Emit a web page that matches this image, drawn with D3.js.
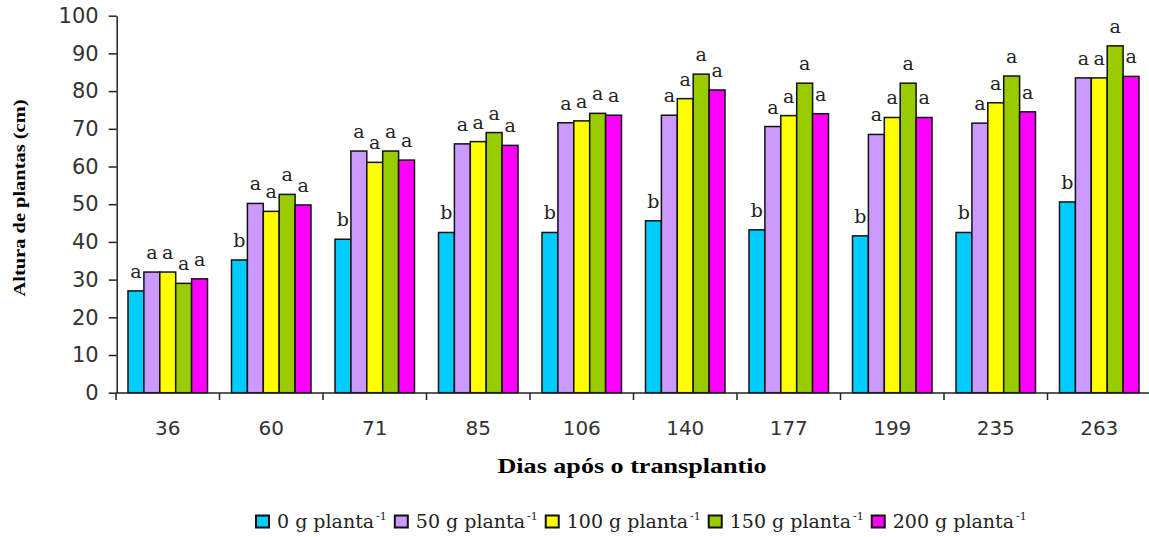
<!DOCTYPE html>
<html><head><meta charset="utf-8">
<script src="https://cdn.jsdelivr.net/npm/d3@7"></script>
<style>body{margin:0;background:#fff}svg{display:block}</style>
</head><body>
<svg id="c" width="1149" height="537"></svg>
<script>
const categories = ["36","60","71","85","106","140","177","199","235","263"];
const seriesNames = ["0 g planta","50 g planta","100 g planta","150 g planta","200 g planta"];
const seriesColors = ["#00CCFF","#CC99FF","#FFFF00","#99CC00","#FF00FF"];
const s0 = [27, 35.2, 40.7, 42.5, 42.5, 45.6, 43.2, 41.6, 42.5, 50.6];
const s50 = [32, 50.2, 64.1, 66.0, 71.6, 73.6, 70.6, 68.5, 71.5, 83.5];
const s100 = [32, 48.1, 61.1, 66.6, 72.1, 78.0, 73.5, 73.0, 76.9, 83.5];
const s150 = [29, 52.6, 64.1, 69.0, 74.1, 84.5, 82.1, 82.1, 84.0, 92.0];
const s200 = [30.2, 49.8, 61.7, 65.6, 73.6, 80.3, 74.0, 73.0, 74.5, 83.9];
const letters0 = ["a","b","b","b","b","b","b","b","b","b"];
const lettersOther = ["a","a","a","a","a","a","a","a","a","a"];
const yTicks = [0,10,20,30,40,50,60,70,80,90,100];

const seriesValues = [s0, s50, s100, s150, s200];
const svg = d3.select("#c");
const x0 = d3.scaleBand().domain(categories).range([116, 1151]).paddingInner(0).paddingOuter(0);
const x1 = d3.scaleBand().domain(d3.range(5)).range([12, 91.5]);
const y = d3.scaleLinear().domain([0,100]).range([392.7, 15.7]);

// bars
const data = [];
categories.forEach((c,i)=>{
  seriesValues.forEach((arr,j)=>{
    data.push({c, j, v: arr[i], l: j===0 ? letters0[i] : lettersOther[i]});
  });
});
svg.append("g").selectAll("rect").data(data).join("rect")
  .attr("x", d=>x0(d.c)+x1(d.j))
  .attr("y", d=>y(d.v))
  .attr("width", x1.bandwidth())
  .attr("height", d=>y(0)-y(d.v))
  .attr("fill", d=>seriesColors[d.j])
  .attr("stroke","#111").attr("stroke-width",1.5);

svg.append("g").selectAll("text").data(data).join("text")
  .attr("x", d=>x0(d.c)+x1(d.j)+x1.bandwidth()/2)
  .attr("y", d=>y(d.v)-13)
  .attr("text-anchor","middle")
  .attr("font-family","DejaVu Serif")
  .attr("font-size",19)
  .attr("fill","#222")
  .text(d=>d.l);

// y axis
const yAxis = d3.axisLeft(y).tickValues(yTicks).tickSize(8).tickSizeOuter(0).tickPadding(10);
const gy = svg.append("g").attr("transform","translate(116.7,0)").call(yAxis);
gy.selectAll("text").attr("font-family","DejaVu Sans").attr("font-size",21).attr("fill","#333");
gy.selectAll("line,path").attr("stroke","#222").attr("stroke-width",1.5);

// x axis with boundary ticks
const gx = svg.append("g").attr("transform","translate(0,393)");
gx.append("line").attr("x1",116).attr("x2",1151).attr("stroke","#222").attr("stroke-width",1.5);
gx.selectAll("line.tk").data(categories).join("line").attr("class","tk")
  .attr("x1",d=>x0(d)).attr("x2",d=>x0(d)).attr("y1",0).attr("y2",7)
  .attr("stroke","#222").attr("stroke-width",1.5);
gx.selectAll("text").data(categories).join("text")
  .attr("x",d=>x0(d)+x0.bandwidth()/2).attr("y",42)
  .attr("text-anchor","middle").attr("font-family","DejaVu Sans").attr("font-size",20).attr("fill","#333")
  .text(d=>d);

// axis titles
svg.append("text").attr("x",632).attr("y",473).attr("text-anchor","middle")
  .attr("font-family","Liberation Serif").attr("font-weight","bold").attr("font-size",22)
  .attr("textLength",269).attr("lengthAdjust","spacingAndGlyphs")
  .text("Dias após o transplantio");
svg.append("text").attr("transform","translate(25,198) rotate(-90)").attr("text-anchor","middle")
  .attr("font-family","Liberation Serif").attr("font-weight","bold").attr("font-size",17)
  .attr("textLength",197).attr("lengthAdjust","spacingAndGlyphs")
  .text("Altura de plantas (cm)");

// legend
const lg = svg.append("g");
let lx = 256;
seriesNames.forEach((n,j)=>{
  lg.append("rect").attr("x",lx).attr("y",515.5).attr("width",13).attr("height",12)
    .attr("fill",seriesColors[j]).attr("stroke","#111").attr("stroke-width",2);
  const t = lg.append("text").attr("x",lx+21).attr("y",528)
    .attr("font-family","DejaVu Serif").attr("font-size",19).attr("fill","#222");
  t.append("tspan").text(n);
  t.append("tspan").attr("dx",2).attr("dy",-8).attr("font-size",11).text("-1");
  const w = t.node().getComputedTextLength();
  lx += 21 + w + 10;
});
</script>
</body></html>
